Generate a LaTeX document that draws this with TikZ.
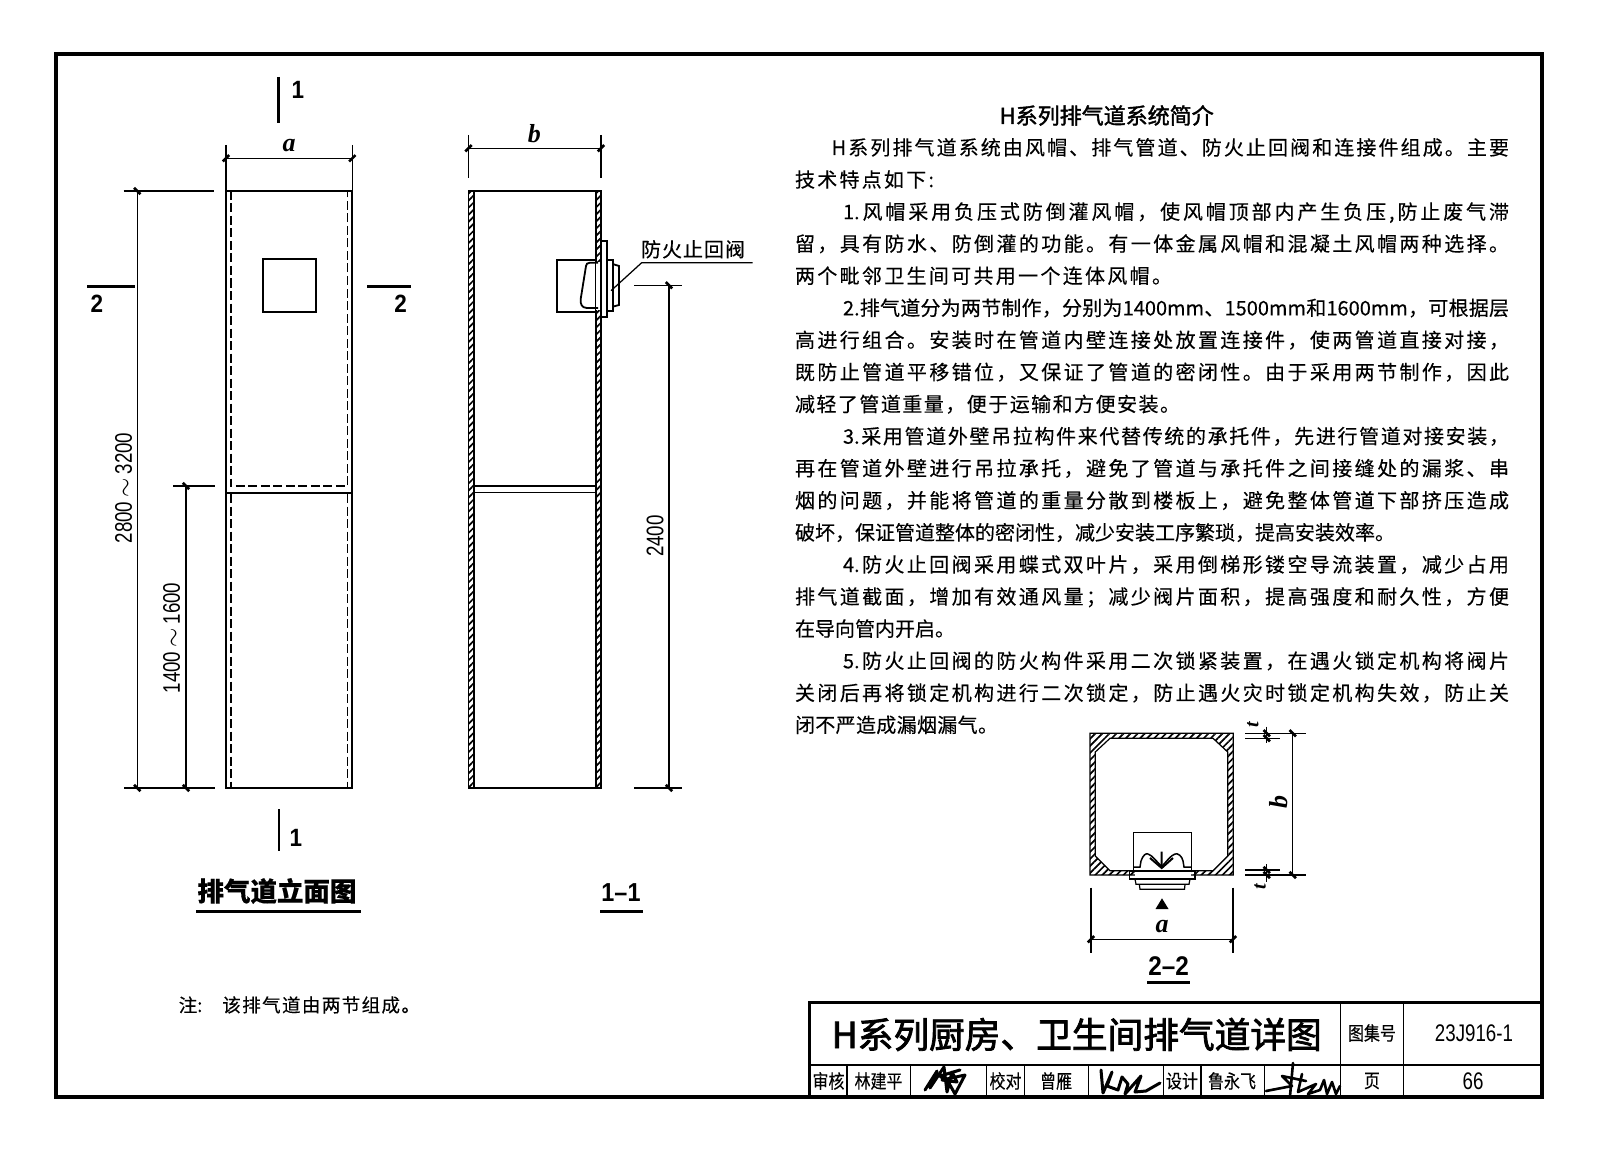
\documentclass[tikz,border=0pt]{standalone}
\usepackage{fontspec}
\usetikzlibrary{patterns.meta}
\setmainfont{Noto Sans CJK SC}
\newfontfamily\cjk[FakeBold=0.25]{Noto Sans CJK SC}
\newfontfamily\cjkm[FakeBold=2.2]{Noto Sans CJK SC}
\newfontfamily\cjkh[FakeBold=1.8]{Noto Sans CJK SC}
\newfontfamily\cjknar[FakeStretch=0.84,FakeBold=0.25]{Noto Sans CJK SC}
\newfontfamily\numnar[FakeStretch=0.78]{Liberation Sans}
\newfontfamily\labf[FakeStretch=0.9]{Liberation Sans}
\newfontfamily\itf{Liberation Serif}
\tikzset{
  bodytext/.style={anchor=base west,inner sep=0pt,outer sep=0pt,font=\fontsize{20}{24}\cjk},
  dimline/.style={line width=1.25pt,black},
  heavy/.style={line width=2.2pt,black},
  outline/.style={line width=1.8pt,black},
  thinout/.style={line width=1.2pt,black},
  hatchwall/.style={draw=black,line width=1.2pt,pattern={Lines[angle=45,distance=5pt,line width=1.7pt]},pattern color=black},
  dashline/.style={line width=1.5pt,black,dash pattern=on 9pt off 3.5pt},
  ital/.style={font=\fontsize{26}{28}\itf\bfseries\itshape,inner sep=0pt},
  seclab/.style={font=\fontsize{25}{28}\labf\bfseries,inner sep=0pt},
  dimtext/.style={font=\fontsize{24}{26}\numnar,inner sep=0pt,rotate=90},
  tblk/.style={inner sep=0pt,font=\fontsize{19}{22}\cjknar},
  tbnum/.style={inner sep=0pt,font=\fontsize{24}{26}\numnar},
  sig/.style={line width=3pt,black,line join=round,line cap=round}
}
\newcommand\tickA[2]{\draw[line width=2.6pt,black] (#1-3.2,#2+3.2) -- (#1+3.2,#2-3.2);}
\newcommand\tickB[2]{\draw[line width=2.6pt,black] (#1-3.2,#2-3.2) -- (#1+3.2,#2+3.2);}
\makeatletter
\newcommand\jl[5]{\node[bodytext] (#1) at (#2,#3) {\hbox to #4pt{\def\jlsep{\def\jlsep{\hfil}}\@tfor\jlch:=#5\do{\jlsep\jlch}}};}
\makeatother
\begin{document}
\begin{tikzpicture}[x=1pt,y=-1pt]
\useasboundingbox (0,0) rectangle (1600,1150);
\fill[white] (0,0) rectangle (1600,1150);
% frame
\draw[line width=4pt,black] (56,54) rectangle (1542,1097);
% ---- elevation
\draw[outline] (225.7,191) rectangle (352.3,788);
\draw[line width=2.1pt,black] (225.7,191) -- (225.7,788);
\draw[outline] (225.7,492.8) -- (352.3,492.8);
\draw[dashline] (230.9,191) -- (230.9,486) -- (347.4,486) -- (347.4,191);
\draw[dashline] (230.9,494) -- (230.9,788);
\draw[dashline] (347.4,494) -- (347.4,788);
\draw[outline] (263.3,259.3) rectangle (315.7,311.7);
% section marks
\draw[line width=2.6pt,black] (278.3,77) -- (278.3,123);
\node[seclab] (s1a) at (298,90) {1};
\draw[line width=2.6pt,black] (279,809) -- (279,851);
\node[seclab] (s1b) at (296,838) {1};
\draw[line width=2.6pt,black] (87,286.3) -- (135,286.3);
\node[seclab] (s2a) at (97,304) {2};
\draw[line width=2.6pt,black] (367.3,286.3) -- (410.7,286.3);
\node[seclab] (s2b) at (400.7,304) {2};
% dim a
\draw[dimline] (226,145) -- (226,191) (352.3,145) -- (352.3,191) (226,158.3) -- (352.3,158.3);
\tickA{226}{158.3}\tickA{352.3}{158.3}
\node[ital] (la) at (289,146) {a};
% dims left
\draw[dimline] (123.5,191) -- (214,191) (137.3,191) -- (137.3,788) (124,788) -- (215,788);
\draw[dimline] (173,486) -- (215,486) (186,486) -- (186,788);
\tickB{137.3}{191}\tickB{137.3}{788}\tickB{186}{486}\tickB{186}{788}
\node[dimtext] (d1) at (123.5,488) {2800\,$\sim$\,3200};
\node[dimtext] (d2) at (171.5,638) {1400\,$\sim$\,1600};
% ---- section 1-1
\draw[hatchwall] (468.5,191) rectangle (474,788);
\draw[hatchwall] (596,191) rectangle (601,788);
\draw[outline] (468.5,191) -- (601,191) (468.5,788) -- (601,788);
\draw[thinout] (474,486) -- (596,486) (474,492.5) -- (596,492.5);
% valve side
\fill[white] (596,262) rectangle (601,310);
\draw[outline] (596,260) -- (557.3,260) -- (557.3,311.7) -- (596,311.7);
\draw[outline] (598,262.7) -- (590,262.7) .. controls (587,262.7) and (586.5,264) .. (586,266) -- (580.7,299) .. controls (580,304) and (582,308) .. (587,308) -- (598,308);
\draw[outline] (601,240.7) rectangle (606.7,317.3);
\draw[outline] (606.7,260) -- (612.7,260) -- (612.7,310.7) -- (606.7,310.7);
\draw[outline] (612.7,264) -- (619,266) -- (619,305) -- (612.7,306.7);
\coordinate (lead0) at (611,290.7);
\coordinate (lead1) at (641.7,262.7);
\coordinate (lead2) at (752.7,262.7);
\draw[dimline] (lead0) -- (lead1) -- (lead2);
\node[inner sep=0pt,font=\fontsize{20}{24}\cjk] (lv) at (693,249.3) {防\hspace{1pt}火\hspace{1pt}止\hspace{1pt}回\hspace{1pt}阀};
% dim b
\draw[dimline] (468.5,135) -- (468.5,178) (601,135) -- (601,178) (468.5,148.3) -- (601,148.3);
\tickA{468.5}{148.3}\tickA{601}{148.3}
\node[ital] (lb) at (534.3,134) {b};
% dim 2400
\draw[dimline] (634,285.3) -- (681.7,285.3) (634,788) -- (682,788);
\draw[line width=1.6pt,black] (669,285.3) -- (669,788);
\tickB{669}{285.3}\tickB{669}{788}
\node[dimtext] (d3) at (655,536) {2400};
% titles
\node[inner sep=0pt,font=\fontsize{26.5}{30}\cjk\bfseries] (t1) at (277,891) {排气道立面图};
\draw[line width=2.6pt,black] (196,911.4) -- (361,911.4);
\node[seclab,font=\fontsize{26}{30}\labf\bfseries] (t2) at (621,893) {1–1};
\draw[line width=2.6pt,black] (600,911.4) -- (643,911.4);
\node[inner sep=0pt,anchor=base west,font=\fontsize{18.5}{22}\cjk] (note) at (178.5,1012) {注:\hspace{20pt}该\hspace{1.4pt}排\hspace{1.4pt}气\hspace{1.4pt}道\hspace{1.4pt}由\hspace{1.4pt}两\hspace{1.4pt}节\hspace{1.4pt}组\hspace{1.4pt}成\hspace{1.4pt}。};
% ---- body text
\node[inner sep=0pt,font=\fontsize{22}{24}\cjkh] (head) at (1106.7,115.5) {H系列排气道系统简介};
\jl{l1}{831.6}{155}{677.4}{H系列排气道系统由风帽、排气管道、防火止回阀和连接件组成。主要}
\jl{l2}{795}{187.1}{139}{技术特点如下:}
\jl{l3}{843}{219.2}{666}{{1.}风帽采用负压式防倒灌风帽，使风帽顶部内产生负压,防止废气滞}
\jl{l4}{795}{251.2}{714}{留，具有防水、防倒灌的功能。有一体金属风帽和混凝土风帽两种选择。}
\jl{l5}{795}{283.3}{377}{两个毗邻卫生间可共用一个连体风帽。}
\jl{l6}{843}{315.4}{666}{{2.}排气道分为两节制作，分别为{1400mm}、{1500mm}和{1600mm}，可根据层}
\jl{l7}{795}{347.5}{714}{高进行组合。安装时在管道内壁连接处放置连接件，使两管道直接对接，}
\jl{l8}{795}{379.6}{714}{既防止管道平移错位，又保证了管道的密闭性。由于采用两节制作，因此}
\jl{l9}{795}{411.6}{385}{减轻了管道重量，便于运输和方便安装。}
\jl{l10}{843}{443.7}{666}{{3.}采用管道外壁吊拉构件来代替传统的承托件，先进行管道对接安装，}
\jl{l11}{795}{475.8}{714}{再在管道外壁进行吊拉承托，避免了管道与承托件之间接缝处的漏浆、串}
\jl{l12}{795}{507.9}{714}{烟的问题，并能将管道的重量分散到楼板上，避免整体管道下部挤压造成}
\jl{l13}{795}{540}{427}{破坏，保证管道整体的密闭性，减少安装工序繁琐，提高安装效率。}
\jl{l14}{843}{572}{666}{{4.}防火止回阀采用蝶式双叶片，采用倒梯形镂空导流装置，减少占用}
\jl{l15}{795}{604.1}{714}{排气道截面，增加有效通风量；减少阀片面积，提高强度和耐久性，方便}
\jl{l16}{795}{636.2}{158}{在导向管内开启。}
\jl{l17}{843}{668.3}{666}{{5.}防火止回阀的防火构件采用二次锁紧装置，在遇火锁定机构将阀片}
\jl{l18}{795}{700.4}{714}{关闭后再将锁定机构进行二次锁定，防止遇火灾时锁定机构失效，防止关}
\jl{l19}{795}{732.4}{203}{闭不严造成漏烟漏气。}
% ---- section 2-2
\draw[hatchwall,even odd rule] (1090,733.3) rectangle (1233.3,875)
  (1110,738.3) -- (1213,738.3) -- (1227.7,752) -- (1227.7,856) -- (1213,870.7) -- (1110,870.7) -- (1095.3,856) -- (1095.3,752) -- cycle;
\fill[white] (1134.5,868) rectangle (1190.5,876);
\draw[thinout] (1133.3,871) -- (1133.3,832.3) -- (1191.7,832.3) -- (1191.7,871);
\draw[line width=1.5pt,black] (1133.3,867) -- (1140,867) -- (1141,861) .. controls (1143,855) and (1146,853) .. (1148,854) .. controls (1152,855) and (1157,862) .. (1161.7,866.5) .. controls (1166,862) and (1171,855) .. (1175,854) .. controls (1178,853) and (1182,856) .. (1183,861) -- (1184,867) -- (1191.7,867);
\draw[line width=2pt,black] (1150,858) -- (1161.7,868) -- (1173,858) (1161.7,851.7) -- (1161.7,868);
\draw[thinout] (1129.3,871) rectangle (1195,879);
\draw[thinout] (1135,879) -- (1136,884.3) -- (1189,884.3) -- (1190,879);
\draw[thinout] (1139.3,884.3) -- (1140,889.3) -- (1184.5,889.3) -- (1185,884.3);
\fill[black] (1162,898.3) -- (1168.5,909) -- (1155.5,909) -- cycle;
% dim a of 2-2
\draw[dimline] (1091,887.7) -- (1091,952.7) (1233,887.7) -- (1233,952.7) (1091,939.3) -- (1233,939.3);
\tickA{1091}{939.3}\tickA{1233}{939.3}
\node[ital] (la2) at (1162,927) {a};
\node[seclab,font=\fontsize{27}{30}\labf\bfseries] (t3) at (1168.7,966) {2–2};
\draw[line width=2.6pt,black] (1147.3,982.7) -- (1190,982.7);
% dims right of 2-2
\draw[dimline] (1245,733.3) -- (1306,733.3) (1245,738.3) -- (1280,738.3) (1245,870) -- (1280,870) (1245,875) -- (1306,875);
\draw[dimline] (1292.7,733.3) -- (1292.7,875);
\draw[dimline] (1266.7,726.7) -- (1266.7,743) (1266.7,864) -- (1266.7,881.7);
\tickB{1292.7}{733.3}\tickB{1292.7}{875}
\tickB{1266.7}{733.3}\tickB{1266.7}{738.3}\tickB{1266.7}{870}\tickB{1266.7}{875}
\node[ital,rotate=90,font=\fontsize{20}{22}\itf\bfseries\itshape] (lt1) at (1252.7,725) {t};
\node[ital,rotate=90,font=\fontsize{20}{22}\itf\bfseries\itshape] (lt2) at (1260,886.7) {t};
\node[ital,rotate=90] (lb2) at (1278.3,801.7) {b};
% ---- title block
\draw[line width=3pt,black] (1542,1002) -- (809.5,1002) -- (809.5,1097);
\draw[line width=1.5pt,black] (809.5,1065) -- (1542,1065);
\draw[line width=1.4pt,black] (1340.5,1002) -- (1340.5,1097) (1403.5,1002) -- (1403.5,1097);
\draw[line width=1.4pt,black] (847,1065) -- (847,1097) (910.5,1065) -- (910.5,1097) (986.6,1065) -- (986.6,1097) (1024.4,1065) -- (1024.4,1097) (1088.4,1065) -- (1088.4,1097) (1163.5,1065) -- (1163.5,1097) (1200.9,1065) -- (1200.9,1097) (1264.4,1065) -- (1264.4,1097);
\node[inner sep=0pt,anchor=base west,font=\fontsize{35.7}{40}\cjkm] (tb0) at (831.5,1048) {H系列厨房、卫生间排气道详图};
\node[tblk] (tb1) at (1372,1033) {图集号};
\node[tbnum] (tb2) at (1474,1033) {23J916-1};
\node[tblk] (tb3) at (1372,1081) {页};
\node[tbnum] (tb4) at (1473,1081) {66};
\node[tblk] (tb5) at (828.5,1081) {审核};
\node[tblk] (tb6) at (878.5,1081) {林建平};
\node[tblk] (tb7) at (1005.5,1081) {校对};
\node[tblk] (tb8) at (1056,1081) {曾雁};
\node[tblk] (tb9) at (1182,1081) {设计};
\node[tblk] (tb10) at (1232,1081) {鲁永飞};
% signatures
\draw[sig] (925,1090) -- (937,1071) -- (930,1088) -- (944,1067) -- (947,1092) -- (952,1072) -- (957,1082) -- (942,1080) -- (965,1075) -- (955,1094) -- (950,1085) -- (940,1076) -- (960,1070);
\draw[sig] (1101,1070) -- (1103,1093) -- (1112,1072) -- (1107,1086) -- (1118,1090) -- (1122,1077) -- (1128,1084) -- (1125,1094) -- (1141,1076) -- (1135,1092) -- (1146,1091) -- (1160,1083);
\draw[sig,line width=2.6pt] (1266,1091) -- (1292,1086) -- (1282,1076) -- (1306,1081) (1293,1063) -- (1290,1096) (1302,1074) -- (1298,1092) -- (1316,1084) -- (1308,1094) -- (1320,1090) -- (1324,1080) -- (1327,1094) -- (1332,1082) -- (1336,1094) -- (1340,1086);
\end{tikzpicture}
\end{document}
